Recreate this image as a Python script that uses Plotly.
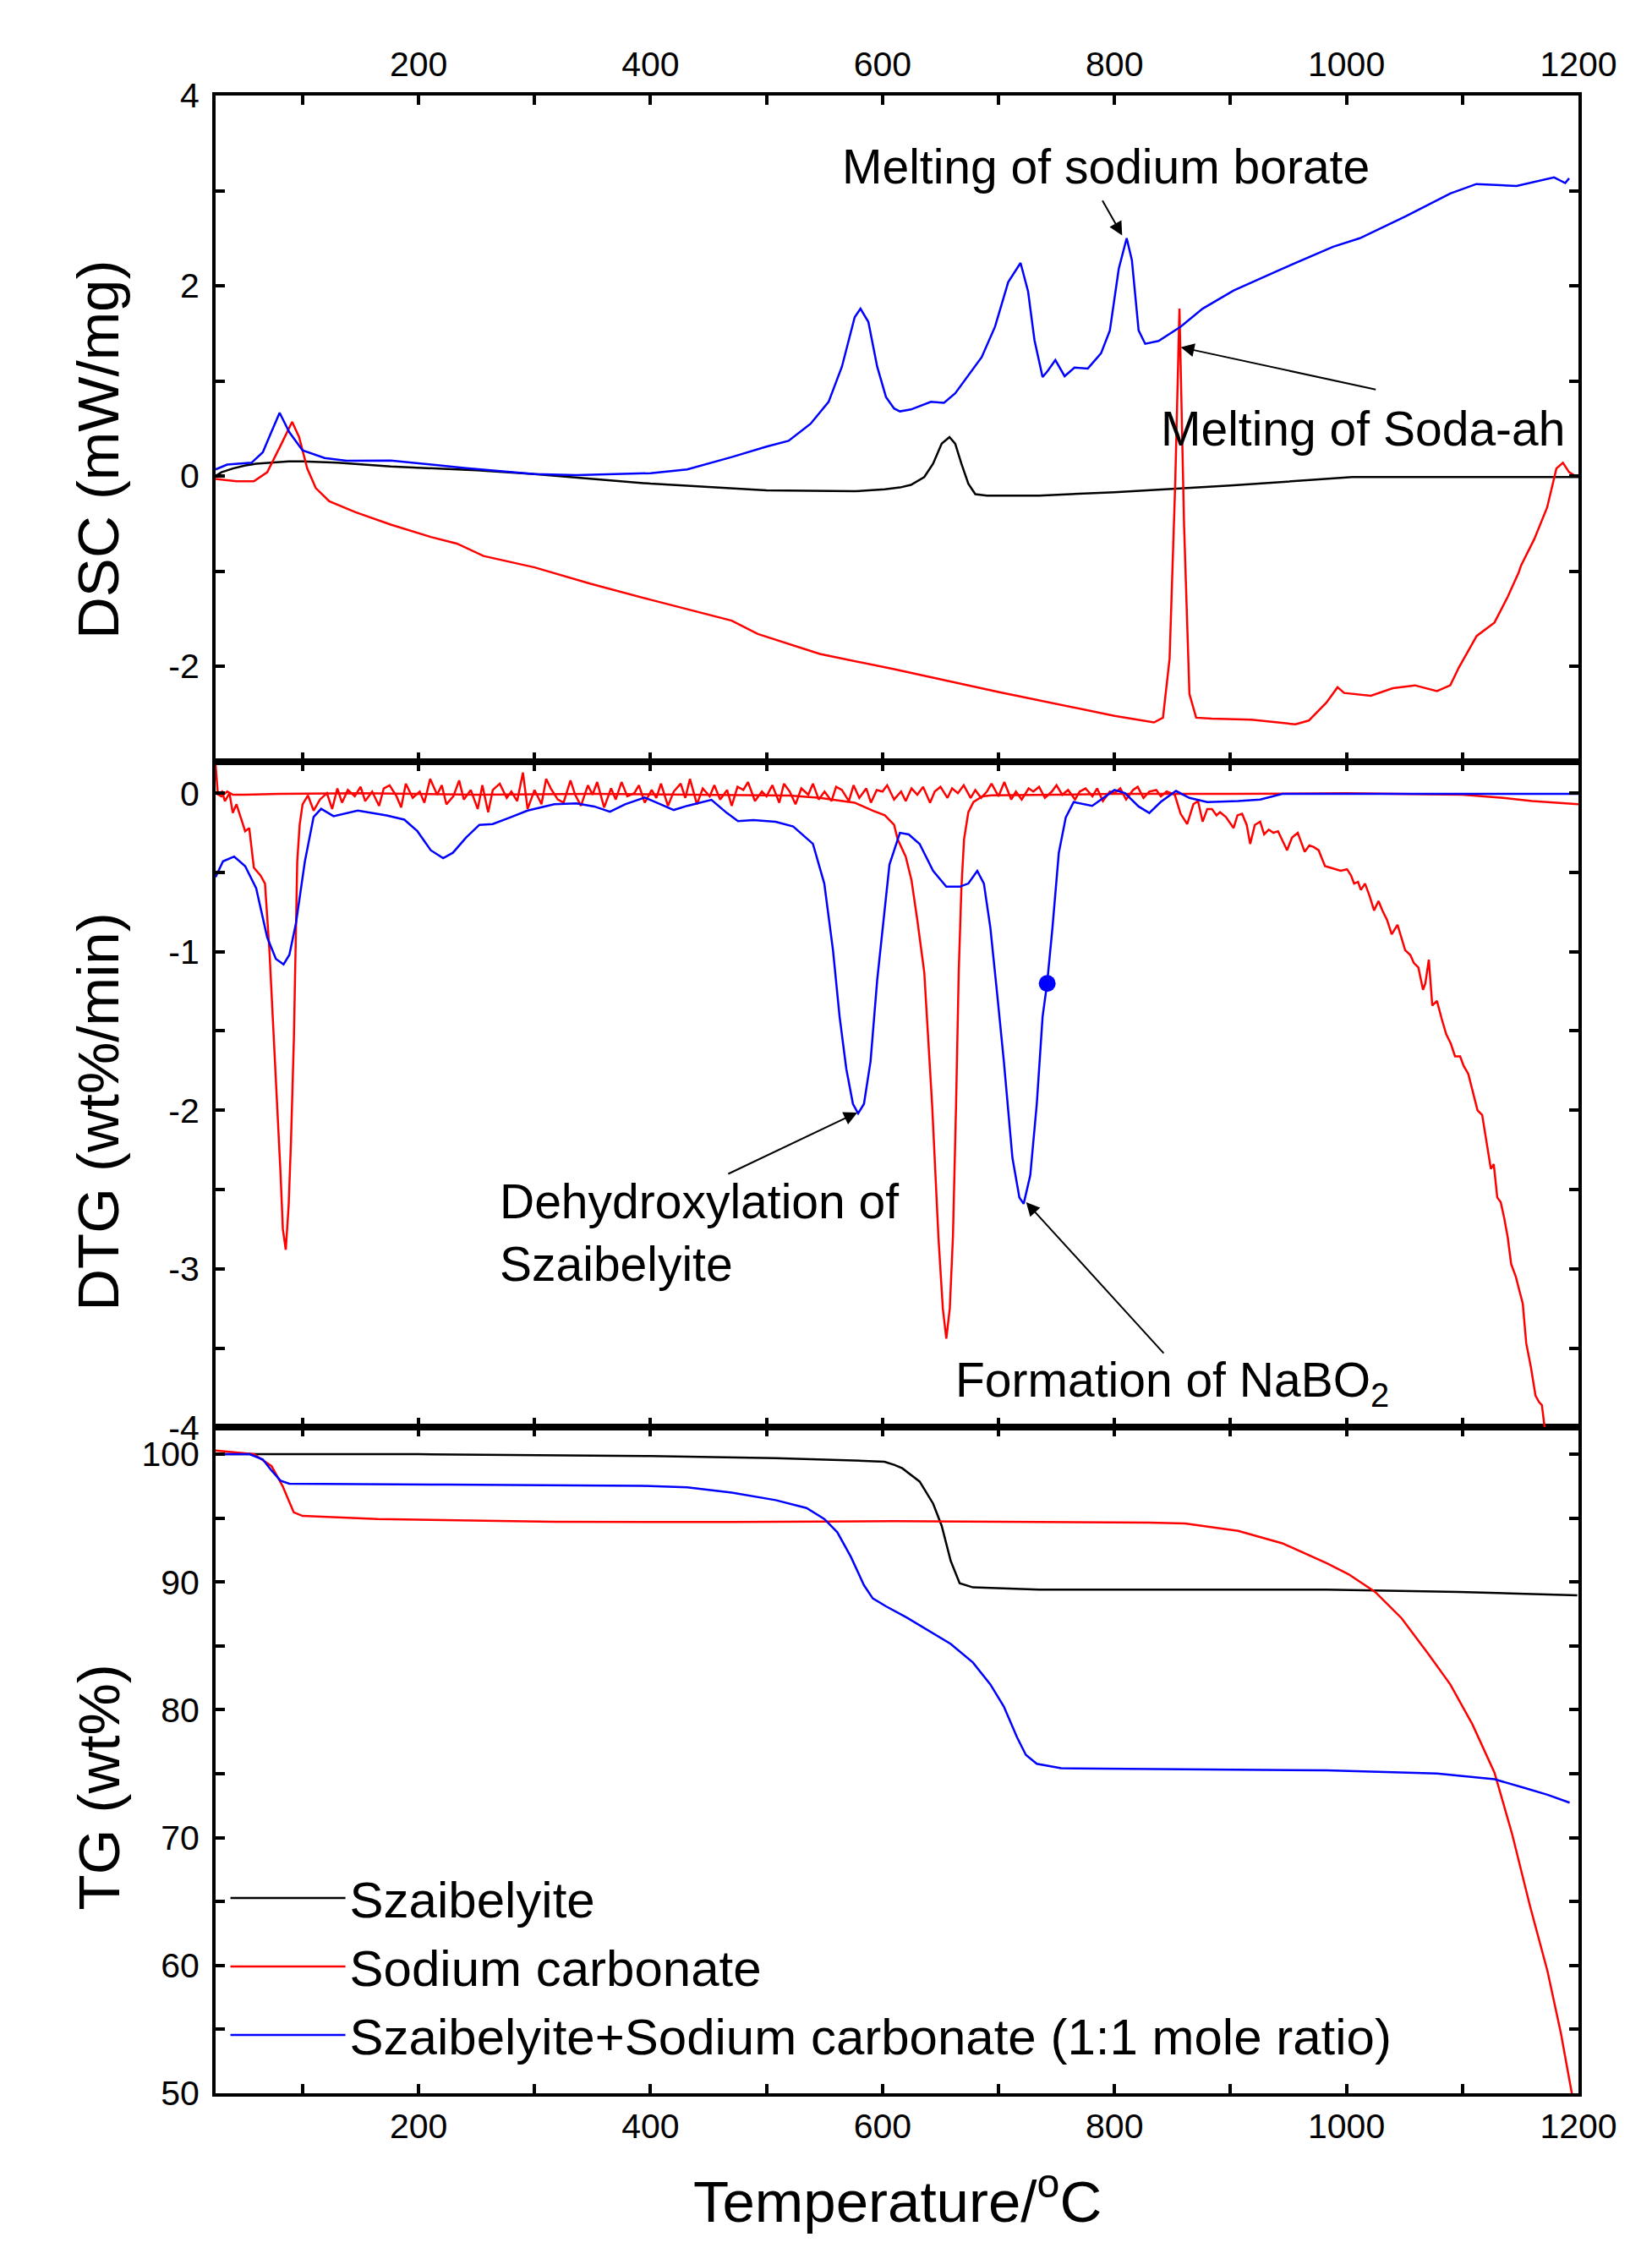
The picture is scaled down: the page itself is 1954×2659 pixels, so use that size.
import plotly.graph_objects as go

# ---------------- DATA ----------------
# DSC (mW/mg)
dsc_szaib_T = [25, 30, 40, 50, 60, 75, 88, 100, 130, 176, 250, 300, 400, 500, 576, 602, 615, 624.5, 636, 643.6,
               651, 657.7, 662.7, 668, 674, 680, 690, 735, 800, 900, 1005, 1100, 1200]
dsc_szaib = [0.0, 0.04, 0.08, 0.11, 0.13, 0.145, 0.155, 0.155, 0.14, 0.10, 0.06, 0.02, -0.08, -0.15, -0.16, -0.14,
             -0.12, -0.093, -0.01, 0.13, 0.34, 0.41, 0.34, 0.13, -0.08, -0.19, -0.205, -0.205, -0.17, -0.10, -0.01,
             -0.01, -0.01]

dsc_soda_T = [25, 43, 58, 69.5, 81, 91, 97, 104, 111.4, 123, 145.7, 176, 210.5, 233, 256, 300, 347.7, 400, 470,
              492.5, 546, 610, 700, 800, 834, 841.8, 847.5, 852.4, 856, 860, 864.6, 870.4, 883.7, 918, 956, 967.5,
              982.8, 992.3, 998, 1021, 1040, 1059, 1078, 1089.5, 1097, 1112.3, 1127.6, 1139, 1148.6, 1150.5, 1162,
              1173, 1181, 1186.6, 1192, 1199]
dsc_soda = [-0.03, -0.055, -0.055, 0.04, 0.32, 0.57, 0.41, 0.08, -0.126, -0.265, -0.38, -0.51, -0.64, -0.71, -0.84,
            -0.96, -1.13, -1.30, -1.52, -1.66, -1.87, -2.03, -2.27, -2.52, -2.59, -2.54, -1.92, -0.06, 1.76, -0.52,
            -2.29, -2.54, -2.55, -2.56, -2.61, -2.57, -2.38, -2.22, -2.28, -2.31, -2.23, -2.20, -2.26, -2.20, -2.01,
            -1.68, -1.54, -1.27, -1.01, -0.94, -0.66, -0.33, 0.08, 0.14, 0.04, -0.01]

dsc_mix_T = [25, 35, 56, 65.7, 73, 80.2, 88.6, 100, 119, 138, 176, 203, 241, 300, 336, 400, 431.6, 470, 500, 519,
             538, 553.5, 565, 576, 581, 587.8, 595.4, 603, 610, 615, 624.5, 641.7, 653, 662.7, 685.5, 697, 708.4,
             719, 725.5, 731, 738, 742.7, 749, 757, 765.5, 777, 788.4, 796, 803.7, 810.5, 815, 820.8, 826.5, 838,
             857, 876, 902.7, 944.7, 988.5, 1011.5, 1051, 1089.5, 1112, 1146.6, 1179, 1188.6, 1192]
dsc_mix = [0.07, 0.12, 0.14, 0.25, 0.46, 0.665, 0.46, 0.27, 0.19, 0.16, 0.163, 0.13, 0.084, 0.02, 0.01, 0.03, 0.07,
           0.20, 0.31, 0.37, 0.55, 0.78, 1.15, 1.67, 1.76, 1.62, 1.15, 0.83, 0.71, 0.68, 0.70, 0.78, 0.77, 0.87, 1.25,
           1.57, 2.04, 2.24, 1.94, 1.43, 1.04, 1.11, 1.22, 1.05, 1.14, 1.13, 1.29, 1.53, 2.18, 2.50, 2.27, 1.53, 1.39,
           1.42, 1.57, 1.76, 1.95, 2.18, 2.41, 2.50, 2.73, 2.97, 3.07, 3.05, 3.14, 3.08, 3.13]

# DTG (wt%/min)
dtg_szaib_T = [25, 30, 35, 40, 50, 80, 150, 250, 350, 450, 520, 546, 576, 591.6, 602, 610, 613, 620, 625, 630, 636,
               642.8, 648.2, 652, 655, 658, 660.7, 663.4, 665.7, 668, 670.3, 674, 678.4, 686, 694, 750, 800, 900,
               1000, 1100, 1135, 1160, 1200]
dtg_szaib = [0.0, -0.02, 0.01, -0.01, -0.01, -0.005, 0.0, -0.01, -0.005, -0.01, -0.015, -0.03, -0.06, -0.11, -0.14,
             -0.2, -0.29, -0.4, -0.55, -0.8, -1.13, -1.97, -2.8, -3.25, -3.44, -3.25, -2.8, -1.97, -1.13, -0.6, -0.29,
             -0.12, -0.056, -0.02, -0.014, -0.01, -0.005, -0.005, 0.0, -0.01, -0.03, -0.05, -0.07]

dtg_soda_T = [25, 27, 30.6, 33, 37, 39.8, 43, 46.6, 50.5, 54, 58, 63.8, 67.6, 71.4, 75, 78, 81, 83, 85.5, 88, 90,
              92.5, 95.4, 97.5, 100, 104.6, 109.5, 115, 121, 125.5,
              130, 134, 139, 145, 150, 154, 160, 166, 170, 175, 181, 185, 189, 195, 201, 205, 210, 216, 220, 224,
              230, 235, 239, 245, 251, 255, 260, 264, 270, 276, 280, 285, 290, 294, 300, 306, 310, 314, 320, 325,
              331, 335, 340, 346, 350, 354, 360, 366, 370, 375, 380, 386, 390, 395, 401, 405, 409, 415, 420, 426,
              430, 434, 440, 445, 451, 455, 460, 466, 470, 475, 480, 484, 490, 496, 500, 505, 511, 515, 520, 525,
              530, 536, 540, 545, 550, 556, 560, 565, 571, 575, 580, 586, 590, 595, 600, 604, 610, 616, 620, 625,
              630, 635, 641, 645, 650, 656, 660, 665, 670, 676, 680, 685, 690, 694, 700, 705, 711, 715, 720, 726,
              730, 735, 740, 746, 750, 755, 760, 766, 770, 775, 781, 785, 790, 796, 800, 805, 810, 816, 820, 825,
              830, 836, 840, 845,
              852, 857, 862.7, 868, 872, 876, 880, 884, 888, 891, 896, 902.7, 906, 910, 914, 917, 921, 925.6, 929,
              933, 937, 941, 945, 948.8, 953, 958, 961, 964, 968, 971.8, 976, 981.5, 986, 990, 995, 1000.5, 1004,
              1006.6, 1010, 1012.4, 1016, 1020, 1023.8, 1027.6, 1031, 1035, 1039, 1044, 1047, 1050.6, 1055, 1058,
              1062, 1066, 1068, 1071, 1074, 1078, 1082, 1086, 1090, 1093.6, 1098, 1101, 1105, 1109, 1113, 1117,
              1120.6, 1124.5, 1127, 1130, 1133, 1136, 1139, 1142, 1146, 1149.6, 1152, 1155, 1159, 1163, 1166,
              1168.5, 1171, 1175]
dtg_soda = [0.18, -0.01, 0.01, -0.05, 0.0, -0.125, -0.07, -0.15, -0.24, -0.22, -0.47, -0.52, -0.57, -0.99, -1.5,
            -1.96, -2.4, -2.75, -2.88, -2.6, -2.2, -1.55, -0.43, -0.2, -0.07, -0.014, -0.11, -0.04, 0.0, -0.1,
            0.03, -0.06, 0.02, -0.02, 0.04, -0.05, 0.01, -0.08, 0.03, 0.05, -0.02, -0.09, 0.06, -0.03, 0.01, -0.06,
            0.09, -0.01, 0.05, -0.07, -0.02, 0.08, -0.04, 0.02, -0.10, 0.05, -0.12, 0.02, 0.06, -0.03, 0.01, -0.05,
            0.13, -0.10, 0.02, -0.07, 0.09, 0.03, -0.04, -0.06, 0.08, -0.01, -0.08, 0.05, -0.01, 0.07, -0.09, 0.03,
            -0.04, 0.07, -0.02, 0.00, 0.05, -0.06, 0.02, -0.03, 0.06, -0.08, 0.01, 0.06, -0.03, 0.09, -0.07, 0.03,
            -0.02, 0.05, -0.04, 0.02, -0.08, 0.04, 0.02, 0.07, -0.05, 0.01, -0.02, 0.05, -0.06, 0.06, 0.01, -0.07,
            0.03, -0.01, 0.06, -0.04, 0.01, -0.05, 0.04, 0.02, -0.05, 0.05, -0.03, 0.03, -0.06, 0.02, 0.01, 0.05,
            -0.04, 0.01, -0.05, 0.03, -0.01, 0.04, -0.06, 0.01, 0.04, -0.03, 0.03, 0.00, 0.05, -0.03, 0.02, -0.03,
            0.01, 0.06, -0.02, 0.07, -0.04, 0.01, -0.04, 0.03, 0.01, 0.04, -0.03, 0.01, 0.05, -0.01, 0.02, -0.04,
            0.01, 0.03, -0.02, 0.03, -0.05, 0.01, 0.00, 0.03, -0.04, 0.02, 0.04, -0.03, 0.01, 0.02, -0.02, 0.01,
            -0.01, -0.13, -0.195, -0.07, -0.05, -0.18, -0.10, -0.10, -0.14, -0.12, -0.15, -0.22, -0.14, -0.13,
            -0.20, -0.32, -0.20, -0.18, -0.26, -0.23, -0.25, -0.24, -0.30, -0.36, -0.28, -0.25, -0.31, -0.37,
            -0.33, -0.34, -0.36, -0.46, -0.47, -0.48, -0.49, -0.48, -0.52, -0.57, -0.56, -0.61, -0.57, -0.65,
            -0.74, -0.68, -0.74, -0.80, -0.89, -0.83, -0.90, -0.99, -1.02, -1.07, -1.10, -1.24, -1.20, -1.05,
            -1.34, -1.31, -1.42, -1.52, -1.58, -1.66, -1.66, -1.72, -1.77, -1.88, -2.00, -2.03, -2.19, -2.37,
            -2.34, -2.55, -2.58, -2.68, -2.80, -2.97, -3.05, -3.16, -3.22, -3.47, -3.62, -3.80, -3.84, -3.86,
            -4.00, -4.25]

dtg_mix_T = [25, 31.4, 41, 50.5, 60, 69.5, 77, 83.6, 88.6, 94.3, 102, 109.5, 116, 126.7, 147.6, 172.4, 187.7, 199,
             210.5, 221.2, 229.6, 241, 252.4, 263.9, 279, 294, 317, 336, 351.5, 365, 378, 395, 408.7, 420, 431.6,
             452.5, 465.8, 475.4, 488.7, 507.8, 523, 540, 549.8, 557.3, 563, 568.8, 574.5, 579, 584, 589.7, 595.4,
             603, 606, 615, 622.6, 632, 643.6, 655, 666.5, 674, 681.7, 687.4, 693, 698.9, 704.6, 712, 718, 721.7,
             727.4, 733, 738, 741.9, 746.5, 752, 758, 764.8, 773, 780.8, 788.4, 800, 809, 820.8, 830, 839.9, 853,
             864.6, 880, 906.6, 925.6, 944.7, 1000, 1100, 1200]
dtg_mix = [-0.53, -0.43, -0.40, -0.46, -0.60, -0.91, -1.045, -1.08, -1.02, -0.82, -0.43, -0.15, -0.098, -0.145,
           -0.11, -0.14, -0.167, -0.24, -0.36, -0.41, -0.376, -0.28, -0.20, -0.195, -0.153, -0.11, -0.07, -0.064,
           -0.084, -0.117, -0.07, -0.028, -0.07, -0.106, -0.08, -0.042, -0.125, -0.176, -0.17, -0.18, -0.21, -0.32,
           -0.57, -0.99, -1.41, -1.74, -1.96, -2.02, -1.96, -1.69, -1.18, -0.63, -0.45, -0.25, -0.26, -0.32, -0.49,
           -0.59, -0.59, -0.57, -0.49, -0.57, -0.85, -1.27, -1.69, -2.30, -2.55, -2.59, -2.41, -1.96, -1.41, -1.20,
           -0.85, -0.376, -0.153, -0.056, -0.07, -0.08, -0.04, 0.02, 0.0, -0.084, -0.125, -0.055, 0.014, -0.03,
           -0.056, -0.05, -0.04, -0.005, -0.005, -0.005, -0.005]

marker_T = [742]
marker_dtg = [-1.2]

# TG (wt%)
tg_szaib_T = [25, 200, 400, 507.8, 584, 601.7, 610, 617, 632, 643.6, 651, 658.8, 666.5, 678, 735, 983, 1097, 1199]
tg_szaib = [100.0, 100.0, 99.86, 99.69, 99.48, 99.41, 99.17, 98.9, 97.86, 96.14, 94.4, 91.65, 89.9, 89.58, 89.4,
            89.4, 89.23, 88.96]

tg_soda_T = [25, 58, 73.3, 82.8, 92.4, 100, 164.8, 317, 470, 610, 830, 860.8, 906.6, 944.7, 982.8, 1001.8, 1024.7,
             1047.6, 1070.4, 1089.5, 1108.5, 1127.6, 1142.9, 1158, 1173.3, 1184.8, 1194.3, 1200]
tg_soda = [100.28, 100.0, 99.07, 97.5, 95.45, 95.17, 94.93, 94.72, 94.69, 94.76, 94.65, 94.58, 94.0, 93.03, 91.48,
           90.61, 89.23, 87.16, 84.4, 81.99, 78.88, 75.09, 70.26, 64.73, 59.56, 54.73, 50.0, 48.0]

tg_mix_T = [25, 54.3, 65.7, 73.3, 81, 88.6, 223.9, 393.4, 431.6, 470, 507.8, 534.5, 549.8, 561, 572.6, 584, 591.6,
            603, 620.7, 639.8, 658.8, 677.9, 693, 704.6, 716, 723.6, 733, 754, 868.6, 982.8, 1078, 1127.6, 1154,
            1173.3, 1192.4]
tg_mix = [100.0, 100.0, 99.59, 98.72, 97.93, 97.69, 97.62, 97.52, 97.41, 97.0, 96.41, 95.79, 94.93, 93.9, 91.99,
          89.75, 88.72, 88.1, 87.23, 86.2, 85.16, 83.71, 81.99, 80.26, 77.85, 76.47, 75.78, 75.43, 75.33, 75.26,
          75.02, 74.57, 73.88, 73.36, 72.74]

series_names = ["Szaibelyite", "Sodium carbonate", "Szaibelyite+Sodium carbonate (1:1 mole ratio)"]
series_colors = ["#000000", "#FF0000", "#0000FF"]

x_ticks = list(range(100, 1201, 100))
x_ticktext = [str(v) if v % 200 == 0 else "" for v in x_ticks]
dsc_ticks = [-3, -2, -1, 0, 1, 2, 3, 4]
dsc_ticktext = [str(v) if v % 2 == 0 else "" for v in dsc_ticks]
dtg_ticks = [-4, -3.5, -3, -2.5, -2, -1.5, -1, -0.5, 0]
dtg_ticktext = [str(int(v)) if v == int(v) else "" for v in dtg_ticks]
tg_ticks = list(range(50, 101, 5))
tg_ticktext = [str(v) if v % 10 == 0 else "" for v in tg_ticks]

# ---------------- FIGURE ----------------
FONT = "Liberation Sans, Arial, sans-serif"
LW = 2.5
fig = go.Figure()

# DSC (top panel: x3/y3)
fig.add_trace(go.Scatter(x=dsc_szaib_T, y=dsc_szaib, mode="lines", line=dict(color=series_colors[0], width=LW),
                         xaxis="x3", yaxis="y3", showlegend=False))
fig.add_trace(go.Scatter(x=dsc_soda_T, y=dsc_soda, mode="lines", line=dict(color=series_colors[1], width=LW),
                         xaxis="x3", yaxis="y3", showlegend=False))
fig.add_trace(go.Scatter(x=dsc_mix_T, y=dsc_mix, mode="lines", line=dict(color=series_colors[2], width=LW),
                         xaxis="x3", yaxis="y3", showlegend=False))

# DTG (middle panel: x2/y2)
fig.add_trace(go.Scatter(x=dtg_szaib_T, y=dtg_szaib, mode="lines", line=dict(color=series_colors[1], width=LW),
                         xaxis="x2", yaxis="y2", showlegend=False))
fig.add_trace(go.Scatter(x=dtg_soda_T, y=dtg_soda, mode="lines", line=dict(color=series_colors[1], width=LW),
                         xaxis="x2", yaxis="y2", showlegend=False))
fig.add_trace(go.Scatter(x=dtg_mix_T, y=dtg_mix, mode="lines", line=dict(color=series_colors[2], width=LW),
                         xaxis="x2", yaxis="y2", showlegend=False))
fig.add_trace(go.Scatter(x=marker_T, y=marker_dtg, mode="markers",
                         marker=dict(color=series_colors[2], size=20), xaxis="x2", yaxis="y2", showlegend=False))

# TG (bottom panel: x/y)
fig.add_trace(go.Scatter(x=tg_szaib_T, y=tg_szaib, mode="lines", name=series_names[0],
                         line=dict(color=series_colors[0], width=LW), xaxis="x", yaxis="y"))
fig.add_trace(go.Scatter(x=tg_soda_T, y=tg_soda, mode="lines", name=series_names[1],
                         line=dict(color=series_colors[1], width=LW), xaxis="x", yaxis="y"))
fig.add_trace(go.Scatter(x=tg_mix_T, y=tg_mix, mode="lines", name=series_names[2],
                         line=dict(color=series_colors[2], width=LW), xaxis="x", yaxis="y"))

tickfont = dict(family=FONT, size=41, color="black")
common_x = dict(range=[25, 1200], tickmode="array", tickvals=x_ticks, ticktext=x_ticktext,
                ticks="inside", ticklen=11, tickwidth=3.5, tickcolor="black",
                showline=True, linewidth=4, linecolor="black", mirror="allticks",
                showgrid=False, zeroline=False, tickfont=tickfont)
common_y = dict(ticks="inside", ticklen=11, tickwidth=3.5, tickcolor="black", tickmode="array",
                showline=True, linewidth=4, linecolor="black", mirror="allticks",
                showgrid=False, zeroline=False, tickfont=tickfont, ticklabelstandoff=7)

fig.update_layout(
    width=1954, height=2659,
    margin=dict(l=247, r=95, t=105, b=191),
    paper_bgcolor="white", plot_bgcolor="white",
    xaxis=dict(**common_x, anchor="y", domain=[0, 1], side="bottom", ticklabelstandoff=0),
    xaxis2=dict(**common_x, anchor="y2", domain=[0, 1], matches="x", showticklabels=False),
    xaxis3=dict(**common_x, anchor="y3", domain=[0, 1], matches="x", side="top", ticklabelstandoff=3),
    yaxis=dict(**common_y, domain=[0, 1/3], range=[50, 102.1], tickvals=tg_ticks, ticktext=tg_ticktext),
    yaxis2=dict(**common_y, domain=[1/3, 2/3], range=[-4, 0.2], tickvals=dtg_ticks, ticktext=dtg_ticktext),
    yaxis3=dict(**common_y, domain=[2/3, 1], range=[-3, 4], tickvals=dsc_ticks, ticktext=dsc_ticktext),
    showlegend=True,
    legend=dict(x=0.0078, y=0.117, xanchor="left", yanchor="top", bgcolor="rgba(0,0,0,0)",
                font=dict(family=FONT, size=60, color="black"), itemwidth=136, tracegroupgap=0),
)

ann_font = dict(family=FONT, size=57, color="black")
title_font = dict(family=FONT, size=69, color="black")
annotations = [
    # axis titles
    dict(text="DSC (mW/mg)", xref="paper", yref="paper", x=-0.0856, y=0.8227, textangle=-90,
         showarrow=False, xanchor="center", yanchor="middle", font=title_font),
    dict(text="DTG (wt%/min)", xref="paper", yref="paper", x=-0.0856, y=0.491, textangle=-90,
         showarrow=False, xanchor="center", yanchor="middle", font=title_font),
    dict(text="TG (wt%)", xref="paper", yref="paper", x=-0.0856, y=0.153, textangle=-90,
         showarrow=False, xanchor="center", yanchor="middle", font=title_font),
    dict(text="Temperature/<sup>o</sup>C", xref="paper", yref="paper", x=0.5, y=-0.052,
         showarrow=False, xanchor="center", yanchor="middle", font=title_font),
    # text labels
    dict(text="Melting of sodium borate", xref="x3", yref="y3", x=563.5, y=3.25, showarrow=False,
         xanchor="left", yanchor="middle", font=ann_font),
    dict(text="Melting of Soda-ah", xref="x3", yref="y3", x=838.5, y=0.50, showarrow=False,
         xanchor="left", yanchor="middle", font=ann_font),
    dict(text="Dehydroxylation of<br>Szaibelyite", xref="x2", yref="y2", x=268.2, y=-2.77, showarrow=False,
         xanchor="left", yanchor="middle", align="left", font=ann_font),
    dict(text="Formation of NaBO<sub>2</sub>", xref="x2", yref="y2", x=661.6, y=-3.72, showarrow=False,
         xanchor="left", yanchor="middle", font=ann_font),
    # arrows
    dict(text="", xref="x3", yref="y3", x=806.6, y=2.53, axref="x3", ayref="y3", ax=789, ay=2.91,
         showarrow=True, arrowhead=2, arrowsize=1.6, arrowwidth=2, arrowcolor="black"),
    dict(text="", xref="x3", yref="y3", x=857.1, y=1.354, axref="x3", ayref="y3", ax=1026.3, ay=0.907,
         showarrow=True, arrowhead=2, arrowsize=1.6, arrowwidth=2, arrowcolor="black"),
    dict(text="", xref="x2", yref="y2", x=578.3, y=-2.014, axref="x2", ayref="y2", ax=465.9, ay=-2.405,
         showarrow=True, arrowhead=2, arrowsize=1.6, arrowwidth=2, arrowcolor="black"),
    dict(text="", xref="x2", yref="y2", x=723.8, y=-2.58, axref="x2", ayref="y2", ax=843.4, ay=-3.54,
         showarrow=True, arrowhead=2, arrowsize=1.6, arrowwidth=2, arrowcolor="black"),
]
fig.update_layout(annotations=annotations)

fig.write_html("out.html")
